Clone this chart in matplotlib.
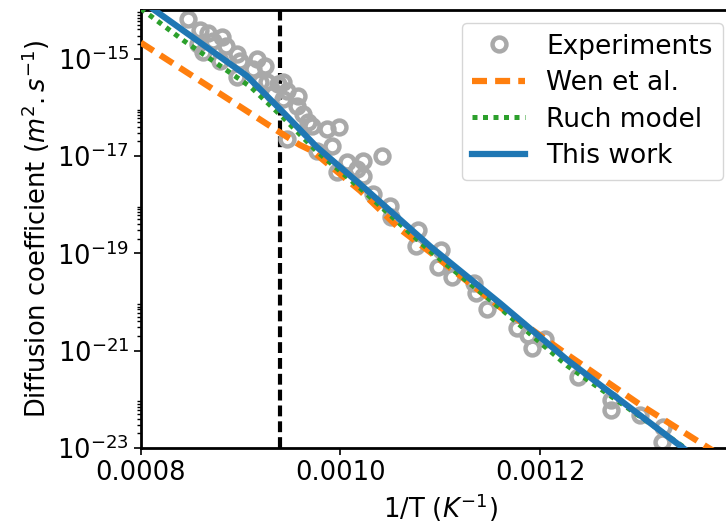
import numpy as np
import matplotlib
matplotlib.use("Agg")
import matplotlib.pyplot as plt
from matplotlib.ticker import FixedLocator, NullFormatter

# Experimental data: 1/T (K^-1) and log10(D)
exp_invT = [0.000847, 0.000859, 0.000867, 0.000857, 0.000872, 0.000881, 0.000885,
            0.000862, 0.000879, 0.000896, 0.000899, 0.000916, 0.000924, 0.000896,
            0.000912, 0.000919, 0.000937, 0.000946, 0.000957, 0.000932, 0.000942,
            0.000956, 0.000962, 0.000967, 0.000946, 0.000986, 0.000999, 0.000991,
            0.000976, 0.001007, 0.001023, 0.001017, 0.001042, 0.001033, 0.000942,
            0.000926, 0.000971, 0.001023, 0.000997, 0.001050, 0.001051, 0.001078,
            0.001076, 0.001101, 0.001098, 0.001112, 0.001134, 0.001136, 0.001147,
            0.001177, 0.001188, 0.001192, 0.001205, 0.001238, 0.001271, 0.001271,
            0.001300, 0.001323, 0.001322]
exp_logD = [-14.18, -14.42, -14.48, -14.69, -14.63, -14.55, -14.73,
            -14.86, -15.04, -14.90, -15.04, -15.00, -15.16, -15.37,
            -15.21, -15.47, -15.52, -15.66, -15.76, -15.72, -15.82,
            -15.97, -16.13, -16.30, -16.65, -16.44, -16.40, -16.79,
            -16.90, -17.12, -17.10, -17.27, -17.00, -17.78, -15.47,
            -15.47, -16.38, -17.41, -17.33, -18.03, -18.26, -18.53,
            -18.86, -18.94, -19.29, -19.49, -19.62, -19.82, -20.15,
            -20.53, -20.67, -20.94, -20.77, -21.54, -22.01, -22.22,
            -22.32, -22.57, -22.88]

# Wen et al.
wen_invT = [0.000800, 0.000939, 0.000959, 0.000972, 0.001020, 0.001060, 0.001090,
            0.001160, 0.001227, 0.001300, 0.001367, 0.001390]
wen_logD = [-14.67, -16.51, -16.77, -16.90, -17.72, -18.51, -18.98,
            -20.11, -21.08, -22.11, -22.98, -23.27]

# Ruch model
ruch_invT = [0.000800, 0.000843, 0.000910, 0.000942, 0.000976, 0.001023, 0.001090,
             0.001160, 0.001227, 0.001345, 0.001365]
ruch_logD = [-13.97, -14.63, -15.58, -16.20, -16.90, -17.72, -18.96,
             -20.13, -21.31, -23.00, -23.29]

# This work
this_invT = [0.000800, 0.000906, 0.000942, 0.000976, 0.001023, 0.001090, 0.001160,
             0.001227, 0.001343, 0.001360]
this_logD = [-13.80, -15.35, -16.09, -16.81, -17.64, -18.86, -20.03,
             -21.19, -23.00, -23.27]

transition_invT = 0.000939

fs = 18.5
fig = plt.figure(figsize=(7.26, 5.30), dpi=100)
ax = fig.add_axes([0.194, 0.155, 0.825, 0.826])

ax.plot(exp_invT, 10.0 ** np.array(exp_logD), 'o', linestyle='none',
        markersize=10, markeredgewidth=3.2, markerfacecolor='none',
        markeredgecolor='darkgray', label='Experiments', zorder=2)
ax.plot(wen_invT, 10.0 ** np.array(wen_logD), color='tab:orange', lw=4.5,
        linestyle=(0, (2.4, 1.3)), label='Wen et al.', zorder=3)
ax.plot(ruch_invT, 10.0 ** np.array(ruch_logD), color='tab:green', lw=3.6,
        linestyle=(0, (1, 1.1)), label='Ruch model', zorder=4)
ax.plot(this_invT, 10.0 ** np.array(this_logD), color='tab:blue', lw=4.5,
        label='This work', zorder=5)
ax.axvline(transition_invT, color='black', lw=3, linestyle=(0, (2.6, 1.2)), zorder=1)

ax.set_yscale('log')
ax.set_xlim(0.0008, 0.0014)
ax.set_ylim(1e-23, 1e-14)
ax.set_xticks([0.0008, 0.0010, 0.0012])
ax.set_xticklabels(['0.0008', '0.0010', '0.0012'])
major = [1e-23, 1e-21, 1e-19, 1e-17, 1e-15]
ax.yaxis.set_major_locator(FixedLocator(major))
minor = [k * m for m in major for k in range(2, 10)]
ax.yaxis.set_minor_locator(FixedLocator(minor))
ax.yaxis.set_minor_formatter(NullFormatter())
ax.tick_params(axis='both', which='major', labelsize=fs, length=5, width=1.2)
ax.tick_params(axis='y', which='minor', length=3, width=1)

for s in ax.spines.values():
    s.set_linewidth(2)

ax.set_xlabel('1/T ($K^{-1}$)', fontsize=fs)
ax.set_ylabel('Diffusion coefficient ($m^2.s^{-1}$)', fontsize=fs)

ax.legend(loc='upper right', fontsize=19, numpoints=1, handlelength=2.0,
          labelspacing=0.4, borderaxespad=0.0,
          bbox_to_anchor=(723 / 726, 1 - 23 / 530), bbox_transform=fig.transFigure)

fig.savefig('out.png', dpi=100)
